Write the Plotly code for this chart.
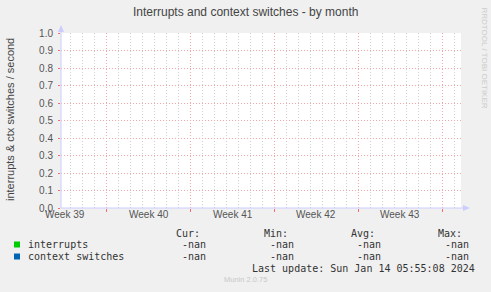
import plotly.graph_objects as go
import pandas as pd
import numpy as np

# ---- data ----
title = "Interrupts and context switches - by month"
y_title = "interrupts & ctx switches / second"
week_labels = ["Week 39", "Week 40", "Week 41", "Week 42", "Week 43"]
week_mids = ["2023-09-28 12:00", "2023-10-05 12:00", "2023-10-12 12:00", "2023-10-19 12:00", "2023-10-26 12:00"]
week_starts = ["2023-10-02", "2023-10-09", "2023-10-16", "2023-10-23", "2023-10-30"]
x_start = "2023-09-28 04:00"
x_end = "2023-10-31 14:00"
series_names = ["interrupts", "context switches"]
series_colors = ["#00CC00", "#0066B3"]
times = pd.date_range(x_start, x_end, freq="2h")
interrupts = [np.nan] * len(times)
ctx_switches = [np.nan] * len(times)
y_ticks = [0.0, 0.1, 0.2, 0.3, 0.4, 0.5, 0.6, 0.7, 0.8, 0.9, 1.0]
stats_header = ["Cur:", "Min:", "Avg:", "Max:"]
stats_values = [["-nan", "-nan", "-nan", "-nan"], ["-nan", "-nan", "-nan", "-nan"]]
last_update = "Last update: Sun Jan 14 05:55:08 2024"
version = "Munin 2.0.75"
watermark = "RRDTOOL / TOBI OETIKER"

W, H = 491, 292
L, R, T, B = 61, 461, 33, 208


def px(x):
    return (x - L) / (R - L)


def py(y):
    return (B - y) / (B - T)


fig = go.Figure()
for name, vals, col in zip(series_names, [interrupts, ctx_switches], series_colors):
    fig.add_trace(go.Scatter(x=times, y=vals, mode="lines", name=name,
                             line=dict(color=col, width=1), showlegend=False))

SANS = "Liberation Sans"
MONO = "DejaVu Sans Mono"
ann = []
ann.append(dict(text=title, x=px(245.5), y=py(12), xref="paper", yref="paper",
                showarrow=False, font=dict(family=SANS, size=12, color="#444444"),
                xanchor="center", yanchor="middle"))
ann.append(dict(text=y_title, x=px(10), y=py(120), xref="paper", yref="paper",
                showarrow=False, textangle=-90, font=dict(family=SANS, size=11, color="#444444"),
                xanchor="center", yanchor="middle"))
ann.append(dict(text=watermark, x=px(484), y=py(5), xref="paper", yref="paper",
                showarrow=False, textangle=90, font=dict(family=SANS, size=8, color="#CCCCCC"),
                xanchor="center", yanchor="top"))
for lab, m in zip(week_labels, week_mids):
    ann.append(dict(text=lab, x=m, y=py(214.5), xref="x", yref="paper", showarrow=False,
                    font=dict(family=SANS, size=10, color="#555555"),
                    xanchor="center", yanchor="middle"))
hdr_right = [202, 290, 377, 464]
val_right = [208, 296, 383, 471]
for h, xr in zip(stats_header, hdr_right):
    ann.append(dict(text=h, x=px(xr), y=py(233), xref="paper", yref="paper", showarrow=False,
                    font=dict(family=MONO, size=10, color="#333333"), xanchor="right", yanchor="middle"))
row_y = [244.5, 256.5]
for i, name in enumerate(series_names):
    ann.append(dict(text=name, x=px(26), y=py(row_y[i]), xref="paper", yref="paper", showarrow=False,
                    font=dict(family=MONO, size=10, color="#333333"), xanchor="left", yanchor="middle"))
    for v, xr in zip(stats_values[i], val_right):
        ann.append(dict(text=v, x=px(xr), y=py(row_y[i]), xref="paper", yref="paper", showarrow=False,
                        font=dict(family=MONO, size=10, color="#333333"), xanchor="right", yanchor="middle"))
ann.append(dict(text=last_update, x=px(477), y=py(268.5), xref="paper", yref="paper", showarrow=False,
                font=dict(family=MONO, size=10, color="#333333"), xanchor="right", yanchor="middle"))
ann.append(dict(text=version, x=px(245), y=py(279.5), xref="paper", yref="paper", showarrow=False,
                font=dict(family=SANS, size=7.5, color="#C8C8C8"), xanchor="center", yanchor="middle"))

shapes = []
# legend swatches
for i, col in enumerate(series_colors):
    shapes.append(dict(type="rect", xref="paper", yref="paper",
                       x0=px(14), x1=px(20), y0=py(row_y[i] - 3), y1=py(row_y[i] + 3),
                       fillcolor=col, line=dict(width=0)))
axis_col = "#CCCCFF"
# axis lines with arrows
shapes.append(dict(type="line", xref="paper", yref="paper", x0=px(61), x1=px(61), y0=py(208), y1=py(28),
                   line=dict(color=axis_col, width=1)))
shapes.append(dict(type="path", xref="paper", yref="paper",
                   path=f"M {px(58)} {py(32)} L {px(64)} {py(32)} L {px(61)} {py(25)} Z",
                   fillcolor=axis_col, line=dict(width=0)))
shapes.append(dict(type="line", xref="paper", yref="paper", x0=px(61), x1=px(466), y0=py(208), y1=py(208),
                   line=dict(color=axis_col, width=1)))
shapes.append(dict(type="path", xref="paper", yref="paper",
                   path=f"M {px(463)} {py(205)} L {px(463)} {py(211)} L {px(470)} {py(208)} Z",
                   fillcolor=axis_col, line=dict(width=0)))

grid_red = "#F2A8A8"
fig.update_layout(
    width=W, height=H,
    margin=dict(l=L, r=W - R, t=T, b=H - B),
    paper_bgcolor="#F0F0F0", plot_bgcolor="#FFFFFF",
    annotations=ann, shapes=shapes, showlegend=False,
    xaxis=dict(type="date", range=[x_start, x_end], tickvals=week_starts, ticktext=[""] * 5,
               showgrid=True, gridcolor=grid_red, griddash="1px,2px", gridwidth=1,
               ticks="outside", ticklen=3, tickcolor="#F07070",
               minor=dict(dtick=86400000, tick0="2023-10-02", showgrid=True,
                          gridcolor="#D0D0D0", griddash="1px,2px", gridwidth=1),
               zeroline=False, showline=False, fixedrange=True),
    yaxis=dict(range=[0, 1.0], tickvals=y_ticks, ticktext=[f"{v:.1f}" for v in y_ticks],
               showgrid=True, gridcolor=grid_red, griddash="1px,2px", gridwidth=1,
               ticks="outside", ticklen=2, tickcolor="#F07070",
               tickfont=dict(family=SANS, size=10, color="#555555"),
               ticklabelstandoff=3,
               zeroline=False, showline=False, fixedrange=True),
)
fig.write_html("out.html")
